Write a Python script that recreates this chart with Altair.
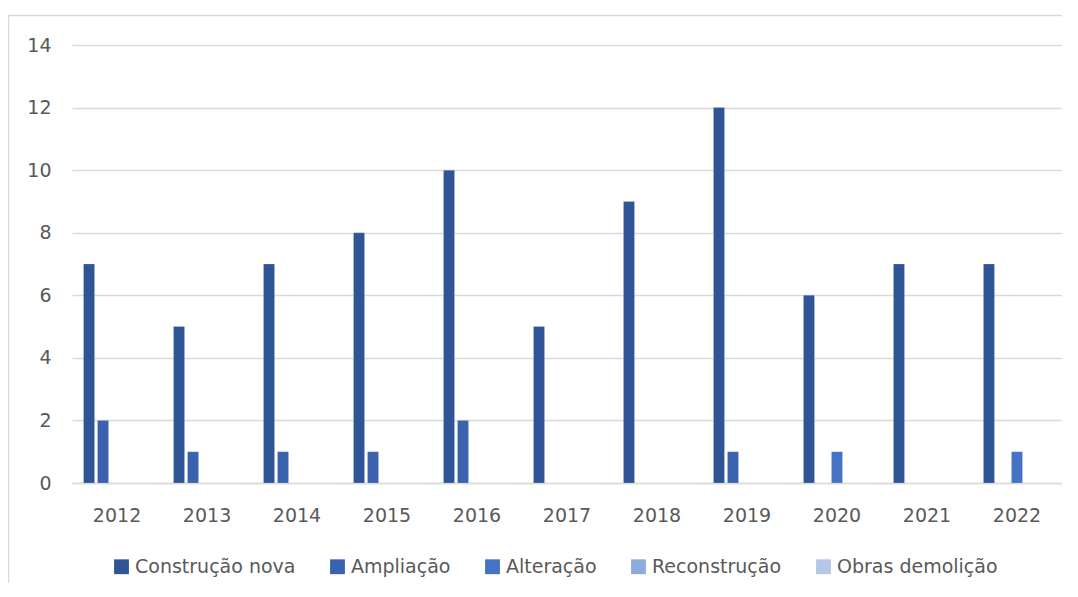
import altair as alt
import pandas as pd

years = ["2012", "2013", "2014", "2015", "2016", "2017", "2018", "2019", "2020", "2021", "2022"]
series = ["Construção nova", "Ampliação", "Alteração", "Reconstrução", "Obras demolição"]
colors = ["#2F5597", "#3A62AE", "#4472C4", "#8FAADC", "#B4C7E7"]

construcao_nova = [7, 5, 7, 8, 10, 5, 9, 12, 6, 7, 7]
ampliacao = [2, 1, 1, 1, 2, 0, 0, 1, 0, 0, 0]
alteracao = [0, 0, 0, 0, 0, 0, 0, 0, 1, 0, 1]
reconstrucao = [0, 0, 0, 0, 0, 0, 0, 0, 0, 0, 0]
obras_demolicao = [0, 0, 0, 0, 0, 0, 0, 0, 0, 0, 0]

vals = [construcao_nova, ampliacao, alteracao, reconstrucao, obras_demolicao]
rows = []
for s, v in zip(series, vals):
    for y, val in zip(years, v):
        rows.append({"ano": y, "tipo": s, "valor": val})
df = pd.DataFrame(rows)

FONT = "DejaVu Sans"
TXT = "#595959"
FS = 19

bars = alt.Chart(df).mark_bar(stroke="#ffffff", strokeOpacity=0.35, strokeWidth=0.5).encode(
    x=alt.X("ano:N", sort=years, title=None,
            scale=alt.Scale(paddingInner=0.255, paddingOuter=0.128),
            axis=alt.Axis(labelAngle=0, labelFont=FONT, labelFontSize=FS, labelColor=TXT,
                          labelPadding=23, ticks=False, domain=True, domainColor="#d9d9d9",
                          domainWidth=1.5, grid=False)),
    xOffset=alt.XOffset("tipo:N", sort=series, scale=alt.Scale(paddingInner=0.21, paddingOuter=0)),
    y=alt.Y("valor:Q", title=None,
            scale=alt.Scale(domain=[0, 14], nice=False),
            axis=alt.Axis(values=[0, 2, 4, 6, 8, 10, 12, 14], labelFont=FONT, labelFontSize=FS,
                          labelColor=TXT, labelPadding=21, ticks=False, domain=False,
                          gridColor="#d9d9d9", gridWidth=1.5)),
    color=alt.Color("tipo:N", sort=series, scale=alt.Scale(domain=series, range=colors),
                    legend=alt.Legend(title=None, orient="none", legendX=40, legendY=512,
                                      direction="horizontal", columns=5, symbolType="square",
                                      symbolSize=220, symbolStrokeWidth=0, labelFont=FONT,
                                      labelFontSize=FS, labelColor=TXT, labelOffset=4,
                                      labelLimit=400, columnPadding=32, symbolOpacity=1)),
)

border = alt.Chart(pd.DataFrame({"a": [0]})).mark_rect(
    fill=None, stroke="#d9d9d9", strokeWidth=1.5
).encode(
    x=alt.value(-63.5), x2=alt.value(1040), y=alt.value(-29.5), y2=alt.value(600)
)

chart = alt.layer(border, bars).properties(
    width=990, height=438,
    padding={"left": 64, "top": 37, "right": 0, "bottom": 100},
    autosize=alt.AutoSizeParams(type="none"),
    background="#ffffff",
).configure_view(stroke=None)

chart.save("out.html", embed_options={"renderer": "svg", "actions": False})
